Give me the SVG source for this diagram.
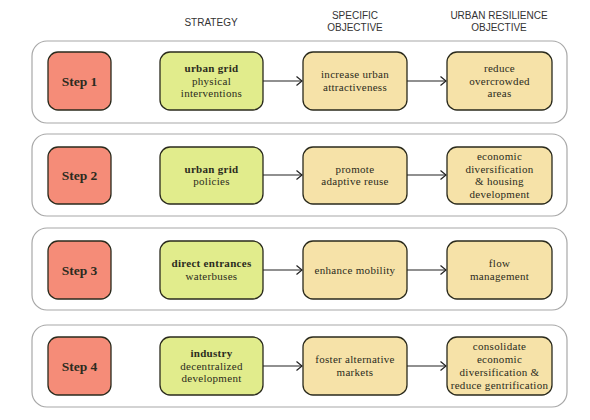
<svg xmlns="http://www.w3.org/2000/svg" width="590" height="420" viewBox="0 0 590 420">
<style>
.hdr{font-family:"Liberation Sans",Arial,sans-serif;font-size:10px;fill:#333;text-anchor:middle}
.row{fill:#fff;stroke:#a8a8a8;stroke-width:1.2}
.box{stroke:#2a2a1c;stroke-width:1.3}
.step{fill:#f58c78}
.str{fill:#e1ec8c}
.obj{fill:#f6e2a8}
.t{font-family:"Liberation Serif","Times New Roman",serif;font-size:11px;letter-spacing:0.3px;fill:#2b2b20;text-anchor:middle}
.b{font-weight:bold}
.st{font-family:"Liberation Serif","Times New Roman",serif;font-size:13.5px;font-weight:bold;fill:#2b2b20;text-anchor:middle}
.c{stroke:#222;stroke-width:1.2;fill:none}
</style>
<defs>
<marker id="ah" markerUnits="userSpaceOnUse" markerWidth="10" markerHeight="12" refX="6" refY="5" orient="auto">
<path d="M0.5,0.5 L6,5 L0.5,9.5" fill="none" stroke="#222" stroke-width="1.2"/>
</marker>
</defs>
<rect width="590" height="420" fill="#fff"/>
<g id="headers">
<text class="hdr" x="211" y="26">STRATEGY</text>
<text class="hdr" x="355" y="19">SPECIFIC</text>
<text class="hdr" x="355" y="31">OBJECTIVE</text>
<text class="hdr" x="499" y="19">URBAN RESILIENCE</text>
<text class="hdr" x="499" y="31">OBJECTIVE</text>
</g>
<g id="rows">
<rect class="row" x="32" y="41" width="535" height="82" rx="15"/>
<rect class="row" x="32" y="134" width="535" height="82" rx="15"/>
<rect class="row" x="32" y="228" width="535" height="82" rx="15"/>
<rect class="row" x="32" y="325" width="535" height="82" rx="15"/>
</g>
<g id="connectors">
<line class="c" x1="263" y1="81" x2="302" y2="81" marker-end="url(#ah)"/>
<line class="c" x1="407" y1="81" x2="446" y2="81" marker-end="url(#ah)"/>
<line class="c" x1="263" y1="175" x2="302" y2="175" marker-end="url(#ah)"/>
<line class="c" x1="407" y1="175" x2="446" y2="175" marker-end="url(#ah)"/>
<line class="c" x1="263" y1="270" x2="302" y2="270" marker-end="url(#ah)"/>
<line class="c" x1="407" y1="270" x2="446" y2="270" marker-end="url(#ah)"/>
<line class="c" x1="263" y1="366" x2="302" y2="366" marker-end="url(#ah)"/>
<line class="c" x1="407" y1="366" x2="446" y2="366" marker-end="url(#ah)"/>
</g>
<g id="step1">
<rect class="box step" x="48" y="52" width="63" height="58" rx="10"/>
<text class="st" x="79.5" y="85.7">Step 1</text>
</g>
<g id="strategy1">
<rect class="box str" x="160" y="52" width="103" height="58" rx="10"/>
<text class="t b" x="211.5" y="71.8">urban grid</text>
<text class="t" x="211.5" y="84.5">physical</text>
<text class="t" x="211.5" y="97.2">interventions</text>
</g>
<g id="specific1">
<rect class="box obj" x="303" y="52" width="104" height="58" rx="10"/>
<text class="t" x="355" y="78.2">increase urban</text>
<text class="t" x="355" y="90.9">attractiveness</text>
</g>
<g id="resilience1">
<rect class="box obj" x="447" y="52" width="105" height="58" rx="10"/>
<text class="t" x="499.5" y="71.8">reduce</text>
<text class="t" x="499.5" y="84.5">overcrowded</text>
<text class="t" x="499.5" y="97.2">areas</text>
</g>
<g id="step2">
<rect class="box step" x="48" y="147" width="63" height="57" rx="10"/>
<text class="st" x="79.5" y="180.2">Step 2</text>
</g>
<g id="strategy2">
<rect class="box str" x="160" y="147" width="103" height="57" rx="10"/>
<text class="t b" x="211.5" y="172.65">urban grid</text>
<text class="t" x="211.5" y="185.35">policies</text>
</g>
<g id="specific2">
<rect class="box obj" x="303" y="147" width="104" height="57" rx="10"/>
<text class="t" x="355" y="172.65">promote</text>
<text class="t" x="355" y="185.35">adaptive reuse</text>
</g>
<g id="resilience2">
<rect class="box obj" x="447" y="147" width="105" height="57" rx="10"/>
<text class="t" x="499.5" y="159.95">economic</text>
<text class="t" x="499.5" y="172.65">diversification</text>
<text class="t" x="499.5" y="185.35">&amp; housing</text>
<text class="t" x="499.5" y="198.05">development</text>
</g>
<g id="step3">
<rect class="box step" x="48" y="241" width="63" height="58" rx="10"/>
<text class="st" x="79.5" y="274.7">Step 3</text>
</g>
<g id="strategy3">
<rect class="box str" x="160" y="241" width="103" height="58" rx="10"/>
<text class="t b" x="211.5" y="267.15">direct entrances</text>
<text class="t" x="211.5" y="279.85">waterbuses</text>
</g>
<g id="specific3">
<rect class="box obj" x="303" y="241" width="104" height="58" rx="10"/>
<text class="t" x="355" y="273.5">enhance mobility</text>
</g>
<g id="resilience3">
<rect class="box obj" x="447" y="241" width="105" height="58" rx="10"/>
<text class="t" x="499.5" y="267.15">flow</text>
<text class="t" x="499.5" y="279.85">management</text>
</g>
<g id="step4">
<rect class="box step" x="48" y="337" width="63" height="58" rx="10"/>
<text class="st" x="79.5" y="370.7">Step 4</text>
</g>
<g id="strategy4">
<rect class="box str" x="160" y="337" width="103" height="58" rx="10"/>
<text class="t b" x="211.5" y="356.8">industry</text>
<text class="t" x="211.5" y="369.5">decentralized</text>
<text class="t" x="211.5" y="382.2">development</text>
</g>
<g id="specific4">
<rect class="box obj" x="303" y="337" width="104" height="58" rx="10"/>
<text class="t" x="355" y="363.15">foster alternative</text>
<text class="t" x="355" y="375.85">markets</text>
</g>
<g id="resilience4">
<rect class="box obj" x="447" y="337" width="105" height="58" rx="10"/>
<text class="t" x="499.5" y="350.45">consolidate</text>
<text class="t" x="499.5" y="363.15">economic</text>
<text class="t" x="499.5" y="375.85">diversification &amp;</text>
<text class="t" x="499.5" y="388.55">reduce gentrification</text>
</g>
</svg>
